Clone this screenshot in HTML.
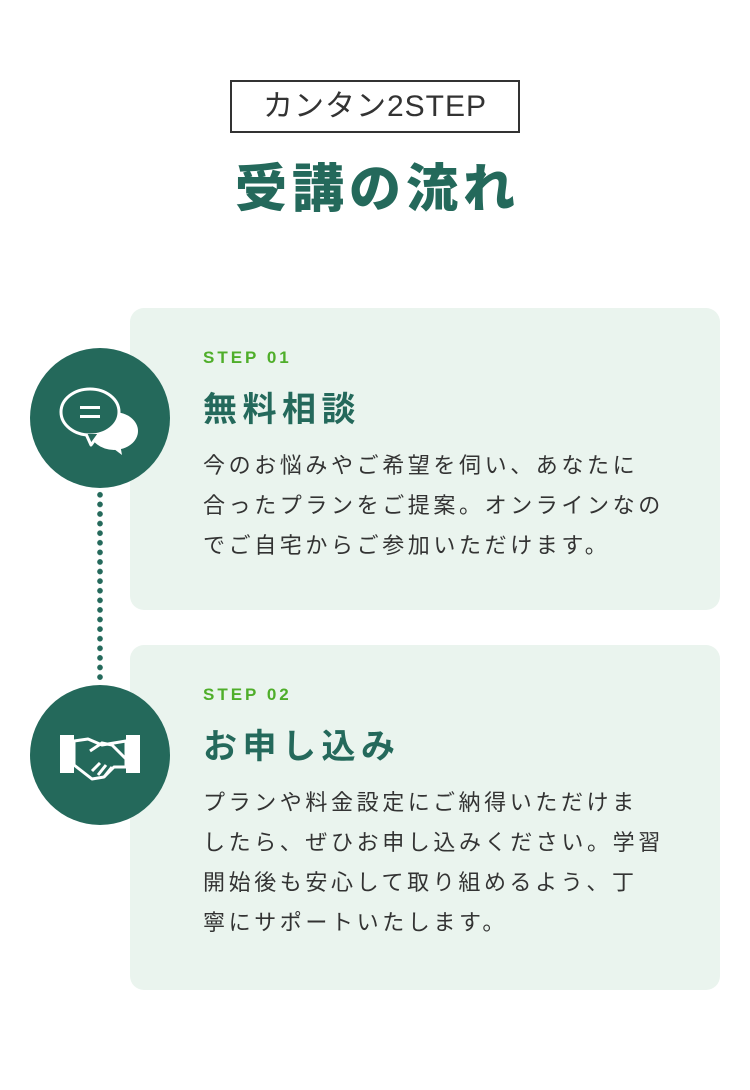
<!DOCTYPE html>
<html><head><meta charset="utf-8"><style>
*{margin:0;padding:0;box-sizing:border-box}
body{width:750px;height:1090px;background:#fff;position:relative;font-family:"Liberation Sans","Noto Sans CJK JP",sans-serif;color:#333;overflow:hidden}
.tag{position:absolute;left:230px;top:80px;width:290px;height:53px;border:2px solid #333;font-size:30px;text-align:center;line-height:49px;color:#333;letter-spacing:1px}
h1{position:absolute;left:0;width:750px;top:158px;text-align:center;font-size:52px;font-weight:900;color:#24695b;letter-spacing:5px;text-indent:5px;line-height:64px}
.card{position:absolute;left:130px;width:590px;background:#eaf4ee;border-radius:14px}
.step{position:absolute;left:203px;font-size:17px;font-weight:700;color:#4fae2a;letter-spacing:3px}
.tt{position:absolute;left:203px;font-size:34px;font-weight:700;color:#24695b;letter-spacing:5.5px}
.bd{position:absolute;left:203px;font-size:22px;line-height:40px;color:#333;letter-spacing:3.6px;width:520px;white-space:nowrap}
.circ{position:absolute;left:30px;width:140px;height:140px;border-radius:50%;background:#24695b}
.dots{position:absolute;left:97px;top:490px;width:6px;height:192px;background:radial-gradient(circle,#24695b 2.6px,transparent 3px) 0 0/6px 9.6px repeat-y}
</style></head><body>
<div class="tag">カンタン2STEP</div>
<h1>受講の流れ</h1>
<div class="card" style="top:308px;height:302px"></div>
<div class="card" style="top:645px;height:345px"></div>
<div class="dots"></div>
<div class="circ" style="top:348px">
<svg width="140" height="140" viewBox="0 0 140 140">
<ellipse cx="84" cy="83" rx="24" ry="19" fill="#fff"/>
<path d="M80 98 L92 107 L90 96Z" fill="#fff"/>
<ellipse cx="60" cy="64" rx="29" ry="23" fill="#24695b" stroke="#fff" stroke-width="3"/>
<path d="M56 86 L61 97 L69 86" fill="#24695b" stroke="#fff" stroke-width="3" stroke-linejoin="round"/>
<rect x="50" y="58" width="20" height="3" fill="#fff"/><rect x="50" y="67" width="20" height="3" fill="#fff"/>
</svg></div>
<div class="circ" style="top:685px">
<svg width="140" height="140" viewBox="0 0 140 140">
<rect x="30" y="50" width="14" height="38" fill="#fff"/><rect x="96" y="50" width="14" height="38" fill="#fff"/>
<path d="M44 56 L58 54 L72 60 L96 56 L96 82 L84 82 L74 92 L62 94 L44 80Z" fill="none" stroke="#fff" stroke-width="3" stroke-linejoin="round"/>
<path d="M60 66 L72 58 L82 60 L96 74" fill="none" stroke="#fff" stroke-width="3"/>
<path d="M62 86 L70 78 M68 90 L76 80 M74 92 L82 82" stroke="#fff" stroke-width="3"/>
</svg></div>
<div class="step" style="top:348px">STEP 01</div>
<div class="tt" style="top:382px">無料相談</div>
<div class="bd" style="top:446px">今のお悩みやご希望を伺い、あなたに<br>合ったプランをご提案。オンラインなの<br>でご自宅からご参加いただけます。</div>
<div class="step" style="top:685px">STEP 02</div>
<div class="tt" style="top:719px">お申し込み</div>
<div class="bd" style="top:783px">プランや料金設定にご納得いただけま<br>したら、ぜひお申し込みください。学習<br>開始後も安心して取り組めるよう、丁<br>寧にサポートいたします。</div>
</body></html>
